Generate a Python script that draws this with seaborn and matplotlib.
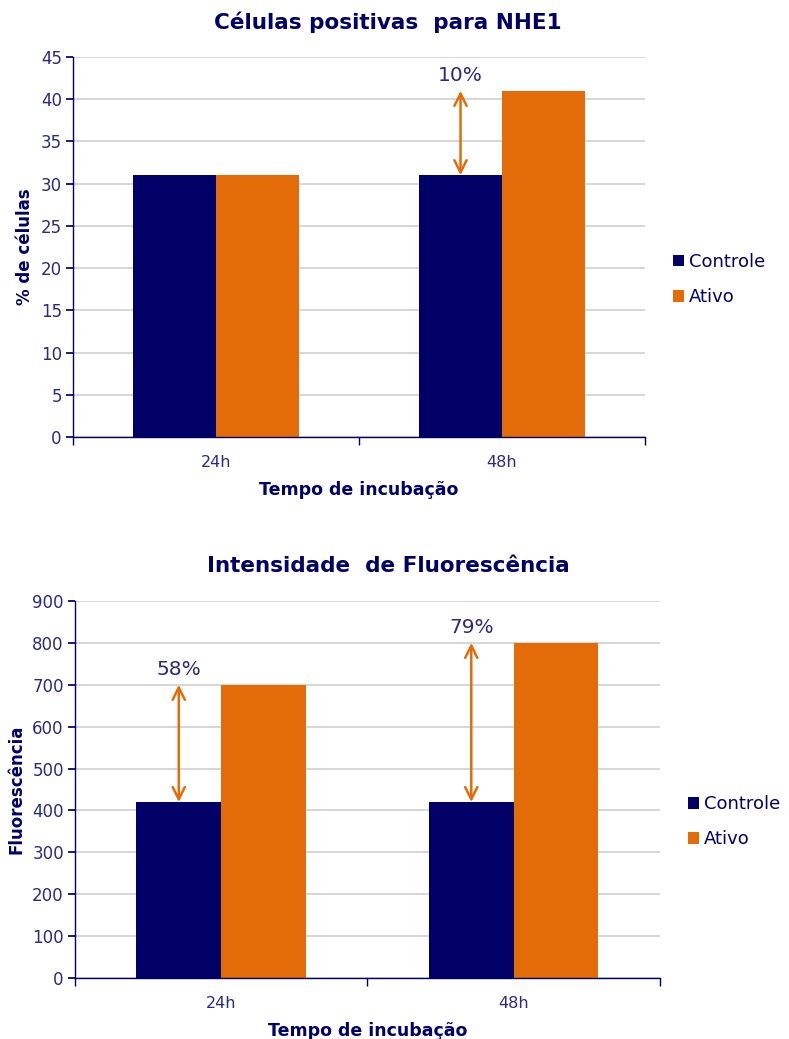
import matplotlib
matplotlib.use("Agg")
import matplotlib.pyplot as plt
from matplotlib.ticker import FixedLocator
import seaborn as sns
import pandas as pd

times = ["24h", "48h"]
groups = ["Controle", "Ativo"]
cells_controle = [31, 31]
cells_ativo = [31, 41]
fluor_controle = [420, 420]
fluor_ativo = [700, 800]
cells_pct = ["", "10%"]
fluor_pct = ["58%", "79%"]

NAVY = "#000066"
ORANGE = "#E36C09"
TXT = "#2A2A7F"
GRID = "#CFCFCF"

sns.set_theme(style="white")
plt.rcParams['font.family'] = ['DejaVu Sans']

fig = plt.figure(figsize=(7.89, 10.39), dpi=100)

def make_df(c, a):
    rows = []
    for t, v in zip(times, c):
        rows.append({"Tempo": t, "Grupo": "Controle", "Valor": v})
    for t, v in zip(times, a):
        rows.append({"Tempo": t, "Grupo": "Ativo", "Valor": v})
    return pd.DataFrame(rows)

def draw(ax, c, a, pcts, ymax, ystep, ylabel, title, title_y, pct_offset):
    df = make_df(c, a)
    sns.barplot(data=df, x="Tempo", y="Valor", hue="Grupo", order=times,
                hue_order=groups, palette=[NAVY, ORANGE], width=0.58,
                saturation=1, ax=ax, legend=True, linewidth=0)
    ax.set_xlim(-0.5, 1.5)
    ax.set_ylim(0, ymax)
    ax.set_yticks(range(0, ymax + 1, ystep))
    ax.yaxis.grid(True, color=GRID, linewidth=1.2)
    ax.set_axisbelow(True)
    for s in ["top", "right"]:
        ax.spines[s].set_visible(False)
    for s in ["left", "bottom"]:
        ax.spines[s].set_color(NAVY)
        ax.spines[s].set_linewidth(1.0)
    ax.tick_params(axis="y", left=True, length=5, color=NAVY, labelcolor=TXT,
                   labelsize=12, pad=3)
    ax.tick_params(axis="x", bottom=False, labelcolor=TXT, labelsize=11.5, pad=7)
    ax.xaxis.set_minor_locator(FixedLocator([-0.5, 0.5, 1.5]))
    ax.tick_params(axis="x", which="minor", bottom=True, length=6, color=NAVY)
    ax.set_xlabel("Tempo de incubação", fontsize=12.5, fontweight="bold", color=NAVY, labelpad=8)
    ax.set_ylabel(ylabel, fontsize=12, fontweight="bold", color=NAVY, labelpad=5)
    # arrows
    for i, p in enumerate(pcts):
        if not p:
            continue
        xc = i - 0.58 / 4
        ax.annotate("", xy=(xc, a[i]), xytext=(xc, c[i]),
                    arrowprops=dict(arrowstyle="<->", color=ORANGE, lw=1.8,
                                    mutation_scale=22, shrinkA=0, shrinkB=0))
        ax.text(xc, a[i] + pct_offset, p, ha="center", va="bottom",
                fontsize=14.5, color=TXT)
    leg = ax.legend(loc="center left", bbox_to_anchor=(1.02, 0.414), frameon=False,
                    handlelength=0.6, handleheight=0.6, handletextpad=0.3,
                    labelspacing=0.95, fontsize=13)
    for t in leg.get_texts():
        t.set_color(NAVY)
    fig.text(0.492, title_y, title, ha="center", va="center", fontsize=15.5,
             fontweight="bold", color=NAVY)

ax1 = fig.add_axes([0.0925, 0.5794, 0.725, 0.3657])
draw(ax1, cells_controle, cells_ativo, cells_pct, 45, 5, "% de células",
     "Células positivas  para NHE1", 0.979, 0.7)

ax2 = fig.add_axes([0.095, 0.0587, 0.7414, 0.3629])
draw(ax2, fluor_controle, fluor_ativo, fluor_pct, 900, 100, "Fluorescência",
     "Intensidade  de Fluorescência", 0.455, 14)

fig.savefig("out.png", dpi=100)
